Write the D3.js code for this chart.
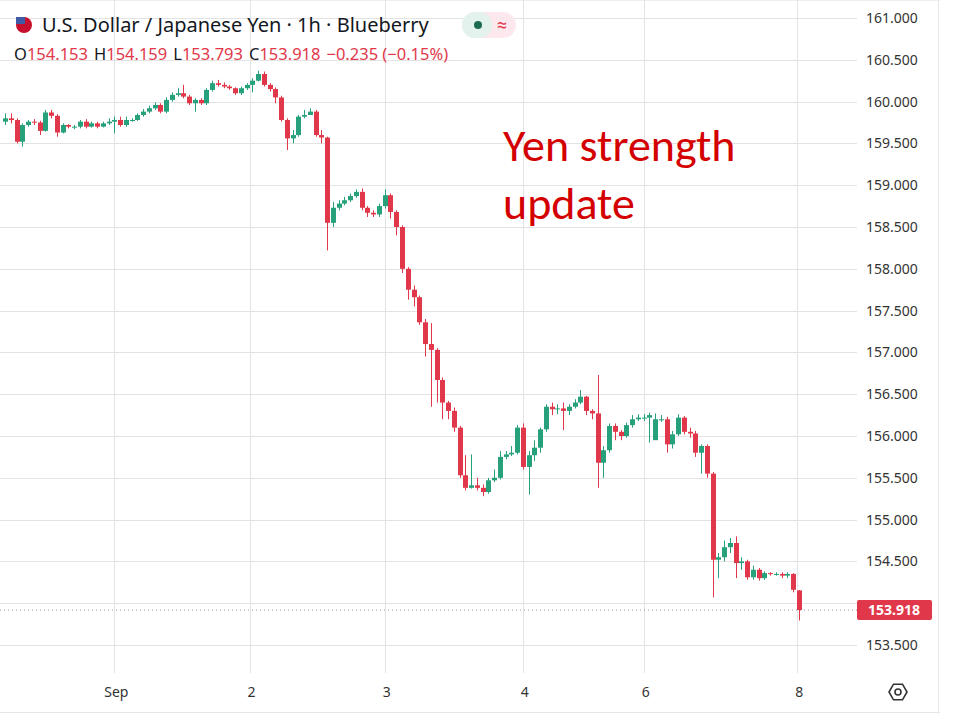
<!DOCTYPE html>
<html><head><meta charset="utf-8">
<script src="https://cdn.jsdelivr.net/npm/d3@7"></script>
<style>body{margin:0;background:#fff;font-family:"Noto Sans",Roboto,sans-serif}</style>
</head><body><svg id="c" width="960" height="721"></svg>
<script>
const closes=[159.80,159.78,159.52,159.72,159.76,159.75,159.65,159.87,159.83,159.63,159.72,159.70,159.70,159.76,159.70,159.74,159.70,159.74,159.76,159.78,159.72,159.78,159.78,159.84,159.88,159.92,159.96,159.88,160.02,160.08,160.10,160.06,159.98,160.02,159.98,160.14,160.22,160.20,160.18,160.16,160.10,160.16,160.20,160.25,160.33,160.20,160.15,160.05,159.78,159.56,159.60,159.82,159.84,159.88,159.60,159.57,158.55,158.73,158.78,158.82,158.87,158.92,158.73,158.67,158.65,158.75,158.88,158.68,158.50,
158.00,157.75,157.66,157.36,157.10,157.03,156.67,156.40,156.30,156.10,155.53,155.38,155.41,155.38,155.33,155.47,155.50,155.75,155.78,155.80,156.10,155.63,155.77,155.86,156.08,156.35,156.32,156.33,156.30,156.35,156.40,156.47,156.30,156.27,155.68,155.83,156.12,156.05,156.00,156.13,156.20,156.22,156.22,156.25,156.20,156.20,155.90,156.02,156.22,156.05,156.03,155.80,155.88,155.55,154.52,154.55,154.67,154.72,154.48,154.50,154.31,154.40,154.30,154.36,154.35,154.35,154.33,154.35,154.16,153.918];
const opens=[159.76,159.80,159.78,159.52,159.72,159.76,159.75,159.65,159.87,159.83,159.63,159.72,159.70,159.70,159.76,159.70,159.74,159.70,159.74,159.76,159.78,159.72,159.78,159.78,159.84,159.88,159.92,159.96,159.88,160.02,160.08,160.10,160.06,159.98,160.02,159.98,160.14,160.22,160.20,160.18,160.16,160.10,160.16,160.20,160.25,160.33,160.20,160.15,160.05,159.78,159.56,159.60,159.82,159.84,159.88,159.60,159.57,158.55,158.73,158.78,158.82,158.87,158.92,158.73,158.67,158.65,158.75,158.88,158.68,
158.50,158.00,157.75,157.66,157.36,157.10,157.03,156.67,156.40,156.30,156.10,155.53,155.38,155.41,155.38,155.33,155.47,155.50,155.75,155.78,155.80,156.10,155.63,155.77,155.86,156.08,156.35,156.32,156.33,156.30,156.35,156.40,156.47,156.30,156.27,155.68,155.83,156.12,156.05,156.00,156.13,156.20,156.22,156.22,155.95,156.20,156.20,155.90,156.02,156.22,156.05,156.03,155.80,155.88,155.55,154.52,154.55,154.67,154.72,154.48,154.50,154.31,154.40,154.30,154.36,154.35,154.35,154.33,154.35,154.153];
const highs=[159.86,159.86,159.80,159.74,159.78,159.79,159.77,159.90,159.90,159.85,159.74,159.73,159.72,159.78,159.79,159.76,159.76,159.76,159.80,159.82,159.82,159.82,159.80,159.86,159.91,159.95,159.99,159.98,160.05,160.11,160.16,160.20,160.08,160.04,160.04,160.16,160.25,160.26,160.23,160.20,160.17,160.18,160.22,160.28,160.37,160.36,160.22,160.17,160.07,159.80,159.66,159.84,159.90,159.92,159.90,159.66,159.58,158.80,158.82,158.86,158.90,158.95,158.96,158.75,158.70,158.78,158.95,158.90,158.70,
158.52,158.02,157.80,157.68,157.40,157.35,157.05,156.70,156.42,156.34,156.12,155.77,155.78,155.50,155.42,155.50,155.60,155.82,155.82,155.88,156.13,156.15,155.82,155.95,156.10,156.38,156.40,156.38,156.40,156.38,156.44,156.55,156.48,156.32,156.73,155.88,156.15,156.15,156.07,156.16,156.25,156.26,156.26,156.28,156.27,156.25,156.23,156.06,156.26,156.24,156.10,156.06,155.90,155.90,155.57,154.60,154.75,154.78,154.80,154.55,154.52,154.45,154.42,154.38,154.37,154.37,154.37,154.37,154.36,154.159];
const lows=[159.72,159.74,159.50,159.46,159.70,159.72,159.60,159.64,159.80,159.58,159.62,159.68,159.67,159.68,159.68,159.69,159.68,159.69,159.72,159.62,159.70,159.70,159.76,159.77,159.82,159.86,159.90,159.86,159.86,160.00,160.06,160.04,159.96,159.88,159.96,159.96,160.12,160.18,160.16,160.14,160.08,160.08,160.14,160.11,160.24,160.18,160.12,159.98,159.76,159.42,159.50,159.58,159.80,159.84,159.58,159.50,158.22,158.50,158.70,158.76,158.80,158.85,158.70,158.62,158.62,158.62,158.72,158.60,158.40,
157.95,157.63,157.55,157.33,156.95,156.35,156.40,156.20,156.20,156.05,155.50,155.35,155.37,155.35,155.28,155.31,155.45,155.48,155.72,155.76,155.78,155.60,155.30,155.70,155.80,156.05,156.25,156.26,156.07,156.25,156.33,156.38,156.25,156.20,155.38,155.50,155.80,155.95,155.95,155.98,156.10,156.18,156.18,155.92,156.18,156.17,155.80,155.85,156.00,156.02,155.98,155.75,155.55,155.50,154.07,154.30,154.50,154.60,154.30,154.40,154.28,154.28,154.27,154.28,154.33,154.33,154.30,154.30,154.13,153.793];
const priceTicks=[161,160.5,160,159.5,159,158.5,158,157.5,157,156.5,156,155.5,155,154.5,154,153.5];
const dayLabels=["Sep","2","3","4","6","8"];
const dayIndex=[19,42.5,66,90,111,137.7];
const lastPrice=153.918;

const svg=d3.select("#c");
const y=d3.scaleLinear().domain([161,153.5]).range([18,645]);
const x=d3.scaleLinear().domain([0,closes.length-1]).range([5,799]);
const up="#26a17b", dn="#e0384a";
svg.append("line").attr("x1",0).attr("x2",940).attr("y1",712.5).attr("y2",712.5).attr("stroke","#e6e6e6");
svg.append("line").attr("x1",938.5).attr("x2",938.5).attr("y1",0).attr("y2",712).attr("stroke","#e6e6e6");
svg.append("line").attr("x1",0).attr("x2",940).attr("y1",0.5).attr("y2",0.5).attr("stroke","#eee");
svg.append("g").selectAll("line").data(priceTicks).join("line")
 .attr("x1",0).attr("x2",857).attr("y1",d=>Math.round(y(d))+0.5).attr("y2",d=>Math.round(y(d))+0.5)
 .attr("stroke","#e3e3e3");
svg.append("g").selectAll("line").data(dayIndex).join("line")
 .attr("x1",d=>Math.round(x(d))+0.5).attr("x2",d=>Math.round(x(d))+0.5).attr("y1",0).attr("y2",673)
 .attr("stroke","#e3e3e3");
const yAxis=d3.axisRight(y).tickValues(priceTicks.filter(v=>v!==154)).tickFormat(d3.format(".3f")).tickSize(0).tickPadding(0);
const ga=svg.append("g").attr("transform","translate(866,0)").call(yAxis);
ga.select(".domain").remove();
ga.selectAll("text").attr("font-size",14).attr("fill","#333").attr("font-family","'Noto Sans',sans-serif");
svg.append("g").selectAll("text").data(dayIndex).join("text")
 .attr("x",d=>x(d)+2).attr("y",697).attr("text-anchor","middle").attr("font-size",14).attr("fill","#333")
 .text((d,i)=>dayLabels[i]);
const hex=d3.range(6).map(k=>{const a=Math.PI/3*k;return [898+9*Math.cos(a),692+9*Math.sin(a)];});
svg.append("polygon").attr("points",hex.map(p=>p.join(",")).join(" ")).attr("fill","none").attr("stroke","#333").attr("stroke-width",1.6);
svg.append("circle").attr("cx",898).attr("cy",692).attr("r",3).attr("fill","none").attr("stroke","#333").attr("stroke-width",1.6);
svg.append("line").attr("x1",0).attr("x2",857).attr("y1",y(lastPrice)).attr("y2",y(lastPrice))
 .attr("stroke","#999").attr("stroke-dasharray","1,3");
const g=svg.append("g");
closes.forEach((c,i)=>{
  const o=opens[i], col=c>=o?up:dn, cx=Math.round(x(i))+0.5;
  g.append("line").attr("x1",cx).attr("x2",cx).attr("y1",y(highs[i])).attr("y2",y(lows[i])).attr("stroke",col).attr("stroke-width",1);
  const t=y(Math.max(o,c)), b=y(Math.min(o,c));
  g.append("rect").attr("x",cx-2.5).attr("width",5).attr("y",t).attr("height",Math.max(1,b-t)).attr("fill",col);
});
svg.append("rect").attr("x",857).attr("y",y(lastPrice)-10).attr("width",75).attr("height",20).attr("rx",2).attr("fill","#e0384a");
svg.append("text").attr("x",894).attr("y",y(lastPrice)+5).attr("text-anchor","middle").attr("font-size",14).attr("font-weight","bold").attr("fill","#fff").text(d3.format(".3f")(lastPrice));
const flag=svg.append("g").attr("transform","translate(24,25)");
flag.append("circle").attr("r",8).attr("fill","#c8102e");
flag.append("rect").attr("x",-8).attr("y",-8).attr("width",9).attr("height",7).attr("fill","#3c5aa6");
svg.append("text").attr("x",42).attr("y",32).attr("font-size",20).attr("fill","#131722").text("U.S. Dollar / Japanese Yen · 1h · Blueberry");
svg.append("rect").attr("x",462).attr("y",12).attr("width",54).attr("height",26).attr("rx",13).attr("fill","#fde8ee");
svg.append("rect").attr("x",462).attr("y",12).attr("width",30).attr("height",26).attr("rx",13).attr("fill","#e3f2ec");
svg.append("circle").attr("cx",478).attr("cy",25).attr("r",4).attr("fill","#1a6b52");
svg.append("text").attr("x",502).attr("y",31).attr("text-anchor","middle").attr("font-size",18).attr("fill","#e0384a").text("≈");
const ohlc=[["O","154.153"],["H","154.159"],["L","153.793"],["C","153.918"]];
const ht=svg.append("text").attr("x",14).attr("y",60).attr("font-size",16.5);
ohlc.forEach(([k,v],i)=>{ht.append("tspan").attr("fill","#131722").attr("dx",i?6:0).text(k);ht.append("tspan").attr("fill","#e0384a").text(v);});
ht.append("tspan").attr("fill","#e0384a").attr("dx",6).text("−0.235 (−0.15%)");
const af="Calibri,Carlito,'Liberation Sans',sans-serif";
svg.append("text").attr("x",503).attr("y",161).attr("font-size",46).attr("fill","#d40000").attr("font-family",af).text("Yen strength");
svg.append("text").attr("x",503).attr("y",219).attr("font-size",46).attr("fill","#d40000").attr("font-family",af).text("update");
</script></body></html>
